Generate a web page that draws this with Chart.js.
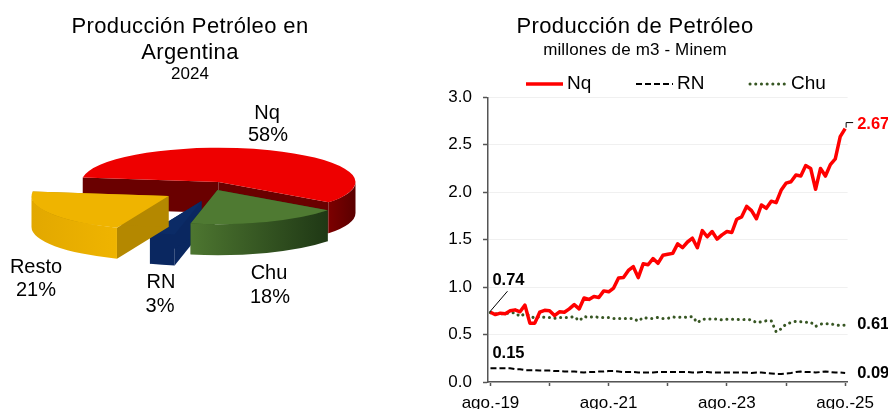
<!DOCTYPE html>
<html>
<head>
<meta charset="utf-8">
<style>
html,body{margin:0;padding:0;background:#fff;width:888px;height:409px;overflow:hidden}
canvas{position:absolute;top:0}
#pie{left:0}
#line{left:380px}
</style>
<script src="https://cdn.jsdelivr.net/npm/chart.js@4"></script>
</head>
<body>
<canvas id="pie" width="380" height="409"></canvas>
<canvas id="line" width="508" height="409"></canvas>
<script>
// ---- data ----
const pieNames = ['Nq','Chu','RN','Resto'];
const pieValues = [58,18,3,21];
const months = [
 'ago.-19','sep.-19','oct.-19','nov.-19','dic.-19',
 'ene.-20','feb.-20','mar.-20','abr.-20','may.-20','jun.-20','jul.-20','ago.-20','sep.-20','oct.-20','nov.-20','dic.-20',
 'ene.-21','feb.-21','mar.-21','abr.-21','may.-21','jun.-21','jul.-21','ago.-21','sep.-21','oct.-21','nov.-21','dic.-21',
 'ene.-22','feb.-22','mar.-22','abr.-22','may.-22','jun.-22','jul.-22','ago.-22','sep.-22','oct.-22','nov.-22','dic.-22',
 'ene.-23','feb.-23','mar.-23','abr.-23','may.-23','jun.-23','jul.-23','ago.-23','sep.-23','oct.-23','nov.-23','dic.-23',
 'ene.-24','feb.-24','mar.-24','abr.-24','may.-24','jun.-24','jul.-24','ago.-24','sep.-24','oct.-24','nov.-24','dic.-24',
 'ene.-25','feb.-25','mar.-25','abr.-25','may.-25','jun.-25','jul.-25','ago.-25'];
const nq = [.735,.71,.725,.72,.75,.76,.74,.81,.62,.62,.735,.755,.75,.70,.74,.735,.77,.815,.77,.885,.87,.90,.89,.96,.95,.99,
 1.095,1.10,1.175,1.215,1.10,1.245,1.235,1.30,1.25,1.335,1.345,1.355,1.455,1.415,1.475,1.515,1.415,1.595,1.53,1.585,1.505,1.55,1.585,1.575,
 1.715,1.74,1.85,1.805,1.72,1.865,1.83,1.905,1.89,2.02,2.095,2.11,2.18,2.17,2.28,2.25,2.03,2.25,2.17,2.29,2.35,2.585,2.67];
const rn = [.145,.145,.145,.145,.145,.135,.135,.125,.125,.125,.12,.12,.12,.115,.115,.11,.11,.11,.105,.10,.105,.105,.11,.11,.115,.115,
 .11,.105,.105,.105,.10,.10,.10,.10,.105,.105,.105,.105,.105,.105,.105,.10,.10,.105,.105,.10,.10,.10,.10,.10,.10,.10,.10,.095,.10,.10,.095,.09,.085,.085,
 .09,.095,.105,.11,.105,.105,.10,.105,.11,.105,.10,.10,.095];
const chu = [.73,.72,.72,.72,.73,.73,.69,.72,.70,.67,.69,.68,.68,.67,.68,.68,.68,.69,.645,.69,.68,.69,.68,.68,.68,.67,
 .67,.67,.67,.67,.64,.68,.67,.67,.68,.67,.67,.685,.68,.685,.68,.69,.625,.66,.665,.665,.665,.655,.66,.66,.66,.655,.66,.655,.625,.635,.645,.645,.527,.56,
 .61,.625,.64,.635,.63,.63,.585,.61,.615,.615,.60,.595,.60];
const yTickValues = [0,0.5,1,1.5,2,2.5,3];
const startLabels = ['0.74','0.15'];
const endLabels = ['2.67','0.09','0.61'];
const seriesNames = ['Nq','RN','Chu'];

// ---- styles ----
const FONT = '"Liberation Sans", Arial, sans-serif';
const sliceTop = ['#ee0000','#4f7a32','#0b2b66','#efb400'];
const sliceWall = ['#6a0000','#2b4a1c','#0a2760','#b48800'];
const sliceSide = [['#7c0000','#5a0000'],['#4d7630','#1f3815'],['#0a2760','#0a2760'],['#e2a800','#efb400']];
const sliceShift = [[0,0],[-1,8],[-17,19],[-50,14]];
const sliceLabelPos = [[267,113,268,135],[269,273,270,297],[161,282,160,306],[36,267,36,290]];
const drawOrder = [0,2,1,3];

const titleSpacing = {
  id:'titleSpacing',
  beforeDraw(chart){
    chart.boxes.forEach(b=>{
      if(!b.options || b.options.text===undefined || b._spaced) return;
      b._spaced = true;
      const orig = b.draw;
      b.draw = function(){
        chart.ctx.letterSpacing = b.options.text==='2024' ? '0px' : (b.options.font.size>18 ? '0.38px' : '0.15px');
        orig.call(b);
        chart.ctx.letterSpacing = '0px';
      };
    });
  }
};

const pie3d = {
  id:'pie3d',
  beforeDatasetDraw(chart){
    const ctx = chart.ctx, meta = chart.getDatasetMeta(0);
    const cx = 218.5, cy = 182, k = 0.25, depth = 31;
    drawOrder.forEach(i=>{
      const el = meta.data[i];
      const a0 = el.startAngle, a1 = el.endAngle, R = el.outerRadius;
      const ox = cx+sliceShift[i][0], oy = cy+sliceShift[i][1];
      const wall = a=>{
        const x = ox+R*Math.cos(a), y = oy+k*R*Math.sin(a);
        ctx.beginPath();ctx.moveTo(ox,oy);ctx.lineTo(x,y);ctx.lineTo(x,y+depth);ctx.lineTo(ox,oy+depth);ctx.closePath();
        ctx.fillStyle = sliceWall[i];ctx.fill();
      };
      wall(a0);wall(a1);
      for(const s of [-2*Math.PI,0,2*Math.PI]){
        const lo = Math.max(a0,s), hi = Math.min(a1,s+Math.PI);
        if(hi<=lo) continue;
        const xa = ox+R*Math.cos(lo), xb = ox+R*Math.cos(hi);
        const g = ctx.createLinearGradient(Math.min(xa,xb),0,Math.max(xa,xb),0);
        g.addColorStop(0,sliceSide[i][0]);g.addColorStop(1,sliceSide[i][1]);
        ctx.beginPath();
        ctx.ellipse(ox,oy,R,k*R,0,lo,hi);
        ctx.ellipse(ox,oy+depth,R,k*R,0,hi,lo,true);
        ctx.closePath();ctx.fillStyle=g;ctx.fill();
      }
      ctx.save();
      ctx.translate(ox,oy);ctx.scale(1,k);ctx.translate(-el.x,-el.y);
      el.draw(ctx);
      ctx.restore();
    });
    return false;
  },
  afterDraw(chart){
    const ctx = chart.ctx;
    ctx.save();
    ctx.font = '20px '+FONT;ctx.fillStyle='#000';ctx.textAlign='center';ctx.textBaseline='middle';
    pieNames.forEach((n,i)=>{
      const p = sliceLabelPos[i];
      ctx.fillText(n,p[0],p[1]);
      ctx.fillText(pieValues[i]+'%',p[2],p[3]);
    });
    ctx.restore();
  }
};

new Chart(document.getElementById('pie'),{
  type:'pie',
  data:{labels:pieNames,datasets:[{data:pieValues,backgroundColor:sliceTop,borderWidth:0}]},
  plugins:[titleSpacing,pie3d],
  options:{
    responsive:false,animation:false,rotation:277.7,radius:137,
    plugins:{
      legend:{display:false},tooltip:{enabled:false},
      title:{display:true,text:['Producción Petróleo en','Argentina'],color:'#000',
        font:{family:FONT,size:22,weight:'normal',lineHeight:1.18},padding:{top:13.5,bottom:0}},
      subtitle:{display:true,text:'2024',color:'#000',
        font:{family:FONT,size:17,weight:'normal',lineHeight:1},padding:{top:0.5,bottom:0}}
    }
  }
});

const lineAnnot = {
  id:'lineAnnot',
  afterDraw(chart){
    const ctx = chart.ctx, X = chart.scales.x, Y = chart.scales.y;
    const lastIdx = months.length-1;
    ctx.save();
    // legend
    const legendY = 84;
    const legendX = [146,256,370];
    chart.data.datasets.forEach((d,i)=>{
      ctx.beginPath();ctx.strokeStyle=d.borderColor;ctx.lineWidth=d.borderWidth;ctx.setLineDash(d.borderDash||[]);
      ctx.lineCap=d.borderCapStyle||'butt';
      ctx.moveTo(legendX[i],legendY);ctx.lineTo(legendX[i]+37,legendY);ctx.stroke();
      ctx.setLineDash([]);ctx.lineCap='butt';
      ctx.font='19px '+FONT;ctx.fillStyle='#000';ctx.textAlign='left';ctx.textBaseline='middle';
      ctx.fillText(d.label,legendX[i]+41,legendY);
    });
    // value labels
    ctx.font='bold 16.5px '+FONT;ctx.textBaseline='middle';
    const x0 = X.getPixelForValue(0), xN = X.getPixelForValue(lastIdx);
    ctx.textAlign='center';ctx.fillStyle='#000';
    ctx.fillText(startLabels[0],x0+18,Y.getPixelForValue(nq[0])-32);
    ctx.fillText(startLabels[1],x0+18,Y.getPixelForValue(rn[0])-15);
    ctx.textAlign='left';
    ctx.fillStyle='#ff0000';
    ctx.fillText(endLabels[0],xN+12,Y.getPixelForValue(nq[lastIdx])-4);
    ctx.fillStyle='#000';
    ctx.fillText(endLabels[1],xN+12,Y.getPixelForValue(rn[lastIdx])+0);
    ctx.fillText(endLabels[2],xN+12,Y.getPixelForValue(chu[lastIdx])-0.5);
    // leader lines
    ctx.strokeStyle='#000';ctx.lineWidth=1;
    ctx.beginPath();
    ctx.moveTo(x0-1,Y.getPixelForValue(nq[0]));ctx.lineTo(x0+17,Y.getPixelForValue(nq[0])-21);
    ctx.moveTo(xN+1,Y.getPixelForValue(nq[lastIdx])-1);ctx.lineTo(xN+1,Y.getPixelForValue(nq[lastIdx])-6);ctx.lineTo(xN+8,Y.getPixelForValue(nq[lastIdx])-6);
    ctx.stroke();
    ctx.restore();
  }
};

new Chart(document.getElementById('line'),{
  type:'line',
  data:{labels:months,datasets:[
    {label:seriesNames[0],data:nq,borderColor:'#ff0000',borderWidth:3.5,pointRadius:0,tension:0,borderJoinStyle:'round'},
    {label:seriesNames[1],data:rn,borderColor:'#000000',borderWidth:2,borderDash:[6,3],pointRadius:0,tension:0},
    {label:seriesNames[2],data:chu,borderColor:'#375623',borderWidth:3,borderDash:[0.1,5.6],borderCapStyle:'round',pointRadius:0,tension:0}
  ]},
  plugins:[titleSpacing,lineAnnot],
  options:{
    responsive:false,animation:false,
    layout:{padding:{left:42.4,right:40.4,top:0,bottom:0}},
    plugins:{
      legend:{display:false},tooltip:{enabled:false},
      title:{display:true,text:'Producción de Petróleo',color:'#000',
        font:{family:FONT,size:22,weight:'normal',lineHeight:1.18},padding:{top:13.5,bottom:0}},
      subtitle:{display:true,text:'millones de m3 - Minem',color:'#000',
        font:{family:FONT,size:17,weight:'normal',lineHeight:1.2},padding:{top:1,bottom:36.4}}
    },
    scales:{
      x:{
        type:'category',offset:true,
        afterFit(s){s.height=27;},
        border:{color:'#555555',width:1.5},
        grid:{drawOnChartArea:false,drawTicks:true,tickLength:4,
          tickColor:c=>(c.index!==undefined&&c.index%12===0)?'#555555':'rgba(0,0,0,0)',tickWidth:1.5},
        ticks:{autoSkip:false,maxRotation:0,minRotation:0,padding:7,color:'#000',font:{family:FONT,size:17},
          callback(v,i){return i%24===0?this.getLabelForValue(v):'';}}
      },
      y:{
        min:0,max:3,
        afterFit(s){s.width=65.6;},
        afterBuildTicks(s){s.ticks=yTickValues.map(v=>({value:v}));},
        border:{color:'#555555',width:1.5},
        grid:{color:'#f0f0f0',lineWidth:1,tickColor:'#555555',tickLength:5,tickWidth:1.5},
        ticks:{padding:11,color:'#000',font:{family:FONT,size:17},callback:v=>v.toFixed(1)}
      }
    }
  }
});
</script>
</body>
</html>
